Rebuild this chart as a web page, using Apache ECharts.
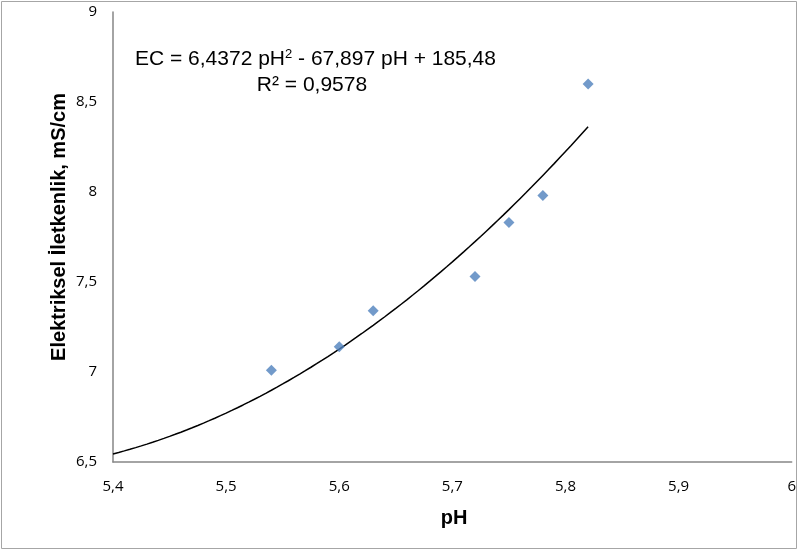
<!DOCTYPE html>
<html>
<head>
<meta charset="utf-8">
<script src="https://cdn.jsdelivr.net/npm/echarts@6/dist/echarts.min.js"></script>
<style>
  html, body { margin: 0; padding: 0; background: #fff; }
  #chart { width: 799px; height: 551px; }
</style>
</head>
<body>
<div id="chart"></div>
<script>
// Measured pH and electrical conductivity (mS/cm)
const phValues = [5.54, 5.60, 5.63, 5.72, 5.75, 5.78, 5.82];
const ecValues = [7.01, 7.14, 7.34, 7.53, 7.83, 7.98, 8.60];

// Second-order polynomial trendline: EC = a·pH² + b·pH + c
const trendCoefficients = [6.4372, -67.897, 185.48];
const trendR2 = 0.9578;
const trendRange = [5.4, 5.82];

// Axis ranges
const xAxisRange = [5.4, 6.0, 0.1];
const yAxisRange = [6.5, 9.0, 0.5];

const xTitle = 'pH';
const yTitle = 'Elektriksel İletkenlik, mS/cm';

const comma = v => String(v).replace('.', ',');

const scatterData = phValues.map((x, i) => [x, ecValues[i]]);

// Trendline evaluated from its stated coefficients across the fitted range
const [a, b, c] = trendCoefficients;
const trendData = [];
const steps = 84;
for (let i = 0; i <= steps; i++) {
  const x = trendRange[0] + (trendRange[1] - trendRange[0]) * i / steps;
  trendData.push([x, a * x * x + b * x + c]);
}

const eqText = 'EC = ' + comma(a) + ' pH{sup|2} - ' + comma(Math.abs(b)) +
  ' pH + ' + comma(c);
const r2Text = 'R² = ' + comma(trendR2);

const tickFont = { fontFamily: 'Open Sans', fontSize: 15, color: '#000' };
const titleFont = 'bold 20px "Liberation Sans", Arial, sans-serif';
const eqFont = '21px "Liberation Sans", Arial, sans-serif';

const chart = echarts.init(document.getElementById('chart'), null, { renderer: 'canvas' });
chart.setOption({
  animation: false,
  backgroundColor: '#fff',
  grid: { left: 113, right: 6, top: 12, bottom: 89, containLabel: false },
  xAxis: {
    type: 'value',
    min: xAxisRange[0], max: xAxisRange[1], interval: xAxisRange[2],
    axisLine: { show: true, onZero: false, lineStyle: { color: '#868686', width: 1.5 } },
    axisTick: { show: false },
    splitLine: { show: false },
    axisLabel: {
      ...tickFont, margin: 17,
      formatter: v => comma(Math.round(v * 10) / 10)
    }
  },
  yAxis: {
    type: 'value',
    min: yAxisRange[0], max: yAxisRange[1], interval: yAxisRange[2],
    axisLine: { show: true, onZero: false, lineStyle: { color: '#868686', width: 1.5 } },
    axisTick: { show: false },
    splitLine: { show: false },
    axisLabel: {
      ...tickFont, margin: 16,
      formatter: v => comma(Math.round(v * 10) / 10)
    }
  },
  series: [
    {
      type: 'line',
      data: trendData,
      showSymbol: false,
      smooth: false,
      lineStyle: { color: '#000', width: 1.5 },
      z: 2
    },
    {
      type: 'scatter',
      data: scatterData,
      symbol: 'diamond',
      symbolSize: [11, 11],
      itemStyle: { color: '#4f81bd' },
      z: 3
    }
  ],
  graphic: [
    {
      type: 'rect',
      shape: { x: 1.5, y: 1.5, width: 795, height: 547 },
      style: { fill: null, stroke: '#a6a6a6', lineWidth: 1 },
      silent: true
    },
    {
      type: 'text',
      x: 135, y: 59,
      style: {
        text: eqText,
        font: eqFont,
        fill: '#000',
        textAlign: 'left',
        textVerticalAlign: 'middle',
        rich: {
          sup: { fontSize: 13, fontFamily: 'Liberation Sans', verticalAlign: 'top', padding: [0, 0, 9, 0] }
        }
      }
    },
    {
      type: 'text',
      x: 312, y: 85,
      style: {
        text: r2Text,
        font: eqFont,
        fill: '#000',
        textAlign: 'center',
        textVerticalAlign: 'middle'
      }
    },
    {
      type: 'text',
      x: 454, y: 518,
      style: {
        text: xTitle, font: titleFont, fill: '#000',
        textAlign: 'center', textVerticalAlign: 'middle'
      }
    },
    {
      type: 'text',
      x: 59, y: 227,
      rotation: Math.PI / 2,
      style: {
        text: yTitle, font: titleFont, fill: '#000',
        textAlign: 'center', textVerticalAlign: 'middle'
      }
    }
  ]
});
</script>
</body>
</html>
